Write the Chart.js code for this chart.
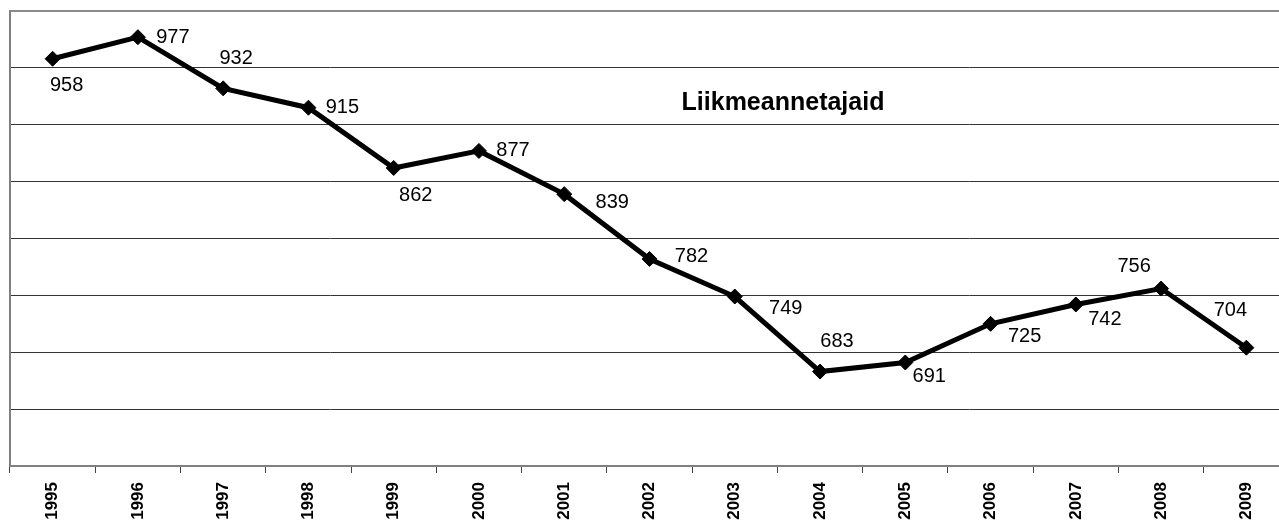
<!DOCTYPE html>
<html>
<head>
<meta charset="utf-8">
<script src="https://cdn.jsdelivr.net/npm/chart.js@4"></script>
<style>
  html, body { margin: 0; padding: 0; background: #fff; overflow: hidden; }
  #wrap { width: 1300px; height: 528px; }
</style>
</head>
<body>
<div id="wrap"><canvas id="chart" width="1300" height="528"></canvas></div>
<script>
var years = ['1995', '1996', '1997', '1998', '1999', '2000', '2001', '2002',
             '2003', '2004', '2005', '2006', '2007', '2008', '2009'];
var members = [958, 977, 932, 915, 862, 877, 839, 782, 749, 683, 691, 725, 742, 756, 704];
var seriesName = 'Liikmeannetajaid';
var yMin = 600, yMax = 1000, yStep = 50;

// where each value label sits relative to its point (px)
var labelOffsets = [[14, 27], [35, 0], [13, -30], [34, 0], [22, 28], [34, 0], [48, 8], [42, -2],
                    [51, 12], [17, -30], [24, 14], [34, 13], [29, 15], [-27, -22], [-16, -37]];

var valueLabels = {
  id: 'valueLabels',
  afterDatasetsDraw: function(chart) {
    var ctx = chart.ctx;
    var meta = chart.getDatasetMeta(0);
    ctx.save();
    ctx.fillStyle = '#000';
    ctx.font = '20px "Liberation Sans", Arial, sans-serif';
    ctx.textAlign = 'center';
    ctx.textBaseline = 'middle';
    meta.data.forEach(function(pt, i) {
      var off = labelOffsets[i];
      ctx.fillText(String(members[i]), pt.x + off[0], pt.y + off[1]);
    });
    // series name inside the plot
    var area = chart.chartArea;
    ctx.font = 'bold 25px "Liberation Sans", Arial, sans-serif';
    ctx.fillText(chart.data.datasets[0].label, area.left + 773, area.top + 92);
    ctx.restore();
  }
};

var chart = new Chart(document.getElementById('chart'), {
  type: 'line',
  data: {
    labels: years,
    datasets: [{
      label: seriesName,
      data: members,
      borderColor: '#000',
      borderWidth: 5,
      backgroundColor: '#000',
      pointStyle: 'rectRot',
      pointRadius: 7.5,
      pointBorderWidth: 1,
      pointBackgroundColor: '#000',
      pointBorderColor: '#000',
      tension: 0,
      fill: false
    }]
  },
  options: {
    responsive: false,
    animation: false,
    events: [],
    layout: { padding: { left: 10, right: 11, top: 11, bottom: 0 } },
    plugins: {
      legend: { display: false },
      title: { display: false },
      tooltip: { enabled: false }
    },
    scales: {
      x: {
        offset: true,
        grid: {
          offset: true,
          drawOnChartArea: false,
          drawTicks: true,
          tickLength: 7,
          color: '#444',
          lineWidth: 1
        },
        border: { display: true, color: '#808080', width: 2 },
        ticks: {
          autoSkip: false,
          minRotation: 90,
          maxRotation: 90,
          padding: 9,
          color: '#000',
          font: { family: '"Liberation Sans", Arial, sans-serif', size: 17, weight: 'bold' }
        },
        afterFit: function(scale) { scale.height = 62; }
      },
      y: {
        min: yMin,
        max: yMax,
        ticks: { stepSize: yStep, display: false },
        grid: {
          drawTicks: false,
          color: function(c) { return c.tick && c.tick.value === yMax ? '#8c8c8c' : '#333'; },
          lineWidth: function(c) { return c.tick && c.tick.value === yMax ? 2 : 1; }
        },
        border: { display: true, color: '#808080', width: 2 },
        afterFit: function(scale) { scale.width = 0; }
      }
    }
  },
  plugins: [valueLabels]
});
</script>
</body>
</html>
